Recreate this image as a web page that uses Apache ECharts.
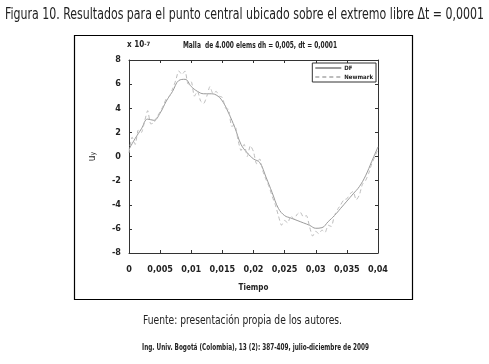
<!DOCTYPE html>
<html><head><meta charset="utf-8">
<script src="https://cdn.jsdelivr.net/npm/echarts@6/dist/echarts.min.js"></script>
<style>html,body{margin:0;padding:0;background:#fff}#c{width:489px;height:364px}</style>
</head><body><div id="c"></div>
<script>
const FONT = '"Liberation Sans Narrow","DejaVu Sans Condensed",sans-serif';
const xTickLabels = ['0','0,005','0,01','0,015','0,02','0,025','0,03','0,035','0,04'];
const yTickLabels = {'8':'8','6':'6','4':'4','2':'2','0':'0','-2':'-2','-4':'-4','-6':'-6','-8':'-8'};
const tDF = [0,0.001,0.002,0.003,0.004,0.005,0.006,0.007,0.008,0.009,0.010,0.011,0.012,0.013,0.014,0.015,0.016,0.017,0.018,0.019,0.020,0.021,0.022,0.023,0.024,0.025,0.026,0.027,0.028,0.029,0.030,0.031,0.032,0.033,0.034,0.035,0.036,0.037,0.038,0.039,0.040];
const vDF = [0.6,1.5,2.3,3.1,3.0,3.6,4.6,5.4,6.3,6.4,5.8,5.4,5.2,5.2,5.1,4.6,3.6,2.4,1.0,0.3,-0.2,-0.5,-1.7,-3.0,-4.3,-4.9,-5.1,-5.3,-5.5,-5.7,-5.95,-5.9,-5.4,-4.9,-4.3,-3.7,-3.1,-2.5,-1.6,-0.4,0.8];
const tNM = [0,0.0005,0.001,0.0015,0.002,0.0025,0.003,0.0035,0.004,0.0045,0.005,0.0055,0.006,0.0065,0.007,0.0075,0.008,0.0085,0.009,0.0095,0.010,0.0105,0.011,0.0115,0.012,0.0125,0.013,0.0135,0.014,0.0145,0.015,0.0155,0.016,0.0165,0.017,0.0175,0.018,0.0185,0.019,0.0195,0.020,0.0205,0.021,0.0215,0.022,0.0225,0.023,0.0235,0.024,0.0245,0.025,0.0255,0.026,0.0265,0.027,0.0275,0.028,0.0285,0.029,0.0295,0.030,0.0305,0.031,0.0315,0.032,0.0325,0.033,0.0335,0.034,0.0345,0.035,0.0355,0.036,0.0365,0.037,0.0375,0.038,0.0385,0.039,0.0395,0.040];
const vNM = [0.3,1.6,1.0,2.2,2.0,2.9,3.8,2.7,2.8,3.3,3.7,4.2,4.8,5.0,5.6,6.3,7.1,6.8,7.1,6.0,6.2,5.0,5.4,4.6,4.4,5.0,5.8,5.2,5.4,5.0,4.9,4.0,3.9,2.5,2.6,1.4,0.5,1.0,0.0,0.9,0.4,-0.6,-0.2,-1.2,-1.9,-2.5,-3.3,-4.0,-4.9,-5.7,-5.3,-5.5,-4.9,-5.2,-4.8,-4.6,-5.0,-4.9,-5.8,-6.6,-6.2,-6.4,-6.1,-6.3,-5.7,-5.8,-4.9,-4.4,-4.0,-3.6,-3.5,-3.1,-2.9,-3.6,-3.2,-2.3,-2.0,-1.4,-0.6,0.0,0.6];
const seriesNames = ['DF','Newmark'];

// fit text horizontally to a target width (layout helper)
const mctx = document.createElement('canvas').getContext('2d');
function fitText(text, font, cx, y, targetW) {
  mctx.font = font;
  const w = mctx.measureText(text).width;
  return {type:'text',x:cx,y:y,scaleX:targetW/w,originX:0,originY:0,
    style:{text:text,font:font,fill:'#222',textAlign:'center'}};
}

const chart = echarts.init(document.getElementById('c'), null, {renderer:'canvas'});
const aLine = {show:true,onZero:false,lineStyle:{color:'#333',width:1}};
const aTick = {show:true,inside:true,length:3,lineStyle:{color:'#333'}};
chart.setOption({
  animation:false,
  backgroundColor:'#fff',
  grid:{left:129,right:111,top:60,bottom:111},
  xAxis:[
    {type:'value',min:0,max:0.04,interval:0.005,position:'bottom',
     axisLine:aLine,axisTick:aTick,splitLine:{show:false},
     axisLabel:{margin:12,fontFamily:FONT,fontWeight:'bold',fontSize:9,color:'#222',
       formatter:v=>xTickLabels[Math.round(v/0.005)]},
     name:'Tiempo',nameLocation:'middle',nameGap:31,
     nameTextStyle:{fontFamily:FONT,fontWeight:'bold',fontSize:8,color:'#222'}},
    {type:'value',min:0,max:0.04,interval:0.005,position:'top',
     axisLine:aLine,axisTick:aTick,splitLine:{show:false},
     axisLabel:{show:false}}
  ],
  yAxis:[
    {type:'value',min:-8,max:8,interval:2,position:'left',
     axisLine:aLine,axisTick:aTick,splitLine:{show:false},
     axisLabel:{margin:8,fontFamily:FONT,fontWeight:'bold',fontSize:9,color:'#222',
       formatter:v=>yTickLabels[String(v)]},
     name:'{u|u}{s|y}',nameLocation:'middle',nameGap:32,nameRotate:90,
     nameTextStyle:{rich:{u:{fontFamily:FONT,fontSize:10,color:'#222'},s:{fontFamily:FONT,fontSize:7,color:'#222',verticalAlign:'bottom'}}}},
    {type:'value',min:-8,max:8,interval:2,position:'right',
     axisLine:aLine,axisTick:aTick,splitLine:{show:false},
     axisLabel:{show:false}}
  ],
  legend:{
    orient:'vertical',right:113,top:63,
    data:seriesNames,
    backgroundColor:'#fff',borderColor:'#333',borderWidth:1,borderRadius:0,
    padding:[2,3,2,2],itemGap:3,itemWidth:26,itemHeight:6,
    itemStyle:{opacity:0},
    textStyle:{fontFamily:FONT,fontWeight:'bold',fontSize:6,color:'#222',padding:[0,0,0,-2]}
  },
  series:[
    {name:seriesNames[0],type:'line',symbol:'none',smooth:0.4,
     data:tDF.map((t,i)=>[t,vDF[i]]),
     lineStyle:{color:'#9a9a9a',width:1},itemStyle:{color:'#9a9a9a'}},
    {name:seriesNames[1],type:'line',symbol:'none',smooth:0.2,
     data:tNM.map((t,i)=>[t,vNM[i]]),
     lineStyle:{color:'#bdbdbd',width:1,type:[4,3]},itemStyle:{color:'#bdbdbd'}}
  ],
  graphic:[
    {type:'rect',shape:{x:74.5,y:35.5,width:338,height:264},style:{fill:'none',stroke:'#000',lineWidth:1.2},z:-1},
    fitText('Figura 10. Resultados para el punto central ubicado sobre el extremo libre \u0394t = 0,0001','15px '+FONT,244.5,8,479),
    {type:'text',x:127,y:41,style:{text:'{a|x 10}{b|-7}',rich:{a:{font:'bold 8px '+FONT,fill:'#222'},b:{font:'bold 6px '+FONT,fill:'#222',verticalAlign:'top'}}}},
    fitText('Malla  de 4.000 elems dh = 0,005, dt = 0,0001','bold 8px '+FONT,260,42,154),
    fitText('Fuente: presentación propia de los autores.','13px '+FONT,242.5,314,199),
    fitText('Ing. Univ. Bogotá (Colombia), 13 (2): 387-409, julio-diciembre de 2009','bold 8px '+FONT,255.5,344,227)
  ]
});
</script></body></html>
